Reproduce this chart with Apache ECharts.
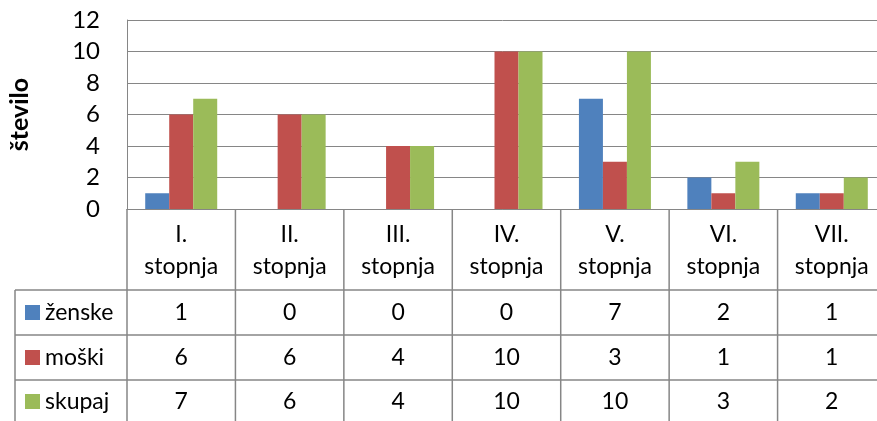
<html>
    <head>
        <meta charset='utf-8'>
        <title>Stopnja</title>
        <script type="text/javascript" src="https://cdn.jsdelivr.net/npm/echarts@6/dist/echarts.min.js"></script>
        <style>
            body { margin: 0; background: #fff; }
            #chart_area { width: 877px; height: 421px; }
        </style>
    </head>
    <body>
        <div id="chart_area"></div>
    </body>
    <script type="text/javascript">
        var categories = ['I.\nstopnja', 'II.\nstopnja', 'III.\nstopnja', 'IV.\nstopnja', 'V.\nstopnja', 'VI.\nstopnja', 'VII.\nstopnja'];
        var series_names = ['ženske', 'moški', 'skupaj'];
        var zenske = [1, 0, 0, 0, 7, 2, 1];
        var moski = [6, 6, 4, 10, 3, 1, 1];
        var skupaj = [7, 6, 4, 10, 10, 3, 2];
        var y_min = 0, y_max = 12, y_step = 2;

        var colors = ['#4F81BD', '#C0504D', '#9BBB59'];
        var line_color = '#868686';
        var font_family = 'Lato, "Open Sans", sans-serif';
        var text_font = '23px ' + font_family;
        var plot_top = 20, plot_bottom = 209, table_left = 15;
        var row_lines = [290, 335, 380, 423];

        var chart = echarts.init(document.getElementById('chart_area'));
        var all_values = [zenske, moski, skupaj];
        var option = {
            animation: false,
            color: colors,
            grid: {left: 127, top: plot_top, width: 759, height: plot_bottom - plot_top, outerBoundsMode: 'none'},
            xAxis: {
                type: 'category',
                data: categories,
                axisLine: {lineStyle: {color: line_color, width: 1}},
                axisTick: {show: false},
                axisLabel: {show: false}
            },
            yAxis: {
                type: 'value',
                min: y_min, max: y_max, interval: y_step,
                name: 'število',
                nameLocation: 'middle',
                nameGap: 95,
                nameTextStyle: {fontFamily: font_family, fontWeight: 'bold', fontSize: 25, color: '#000'},
                axisLine: {show: true, lineStyle: {color: line_color, width: 1}},
                axisTick: {show: false},
                axisLabel: {fontFamily: font_family, fontSize: 24, color: '#000', margin: 27},
                splitLine: {lineStyle: {color: line_color, width: 1}}
            },
            series: []
        };
        series_names.forEach(function(name, i) {
            option.series.push({name: name, type: 'bar', data: all_values[i], barWidth: 24, barGap: '0%'});
        });
        chart.setOption(option);

        // data table under the plot, lined up with the category axis
        var x0 = chart.convertToPixel({xAxisIndex: 0}, 0);
        var x1 = chart.convertToPixel({xAxisIndex: 0}, 1);
        var cw = x1 - x0;
        var left = x0 - cw / 2;
        var right = left + cw * categories.length;
        var g = [];
        function addLine(xa, ya, xb, yb) {
            g.push({type: 'line', shape: {x1: xa, y1: ya, x2: xb, y2: yb},
                    style: {stroke: line_color, lineWidth: 1.5}, silent: true});
        }
        for (var b = 0; b <= categories.length; b++) {
            addLine(left + b * cw, plot_bottom, left + b * cw, 421);
        }
        addLine(table_left, row_lines[0], table_left, 421);
        for (var r = 0; r < 3; r++) {
            addLine(table_left, row_lines[r], right, row_lines[r]);
        }
        categories.forEach(function(cat, i) {
            g.push({type: 'text', x: x0 + i * cw, y: (plot_bottom + row_lines[0]) / 2 + 1,
                    style: {text: cat, align: 'center', verticalAlign: 'middle', lineHeight: 32,
                            font: text_font, fill: '#000'}});
        });
        series_names.forEach(function(name, r) {
            var cy = (row_lines[r] + row_lines[r + 1]) / 2;
            g.push({type: 'rect', shape: {x: 25, y: cy - 7.5, width: 15, height: 15},
                    style: {fill: colors[r]}});
            g.push({type: 'text', x: 45, y: cy,
                    style: {text: name, align: 'left', verticalAlign: 'middle',
                            font: text_font, fill: '#000'}});
            all_values[r].forEach(function(v, i) {
                g.push({type: 'text', x: x0 + i * cw, y: cy,
                        style: {text: String(v), align: 'center', verticalAlign: 'middle',
                                font: text_font, fill: '#000'}});
            });
        });
        chart.setOption({graphic: g});
    </script>
</html>
